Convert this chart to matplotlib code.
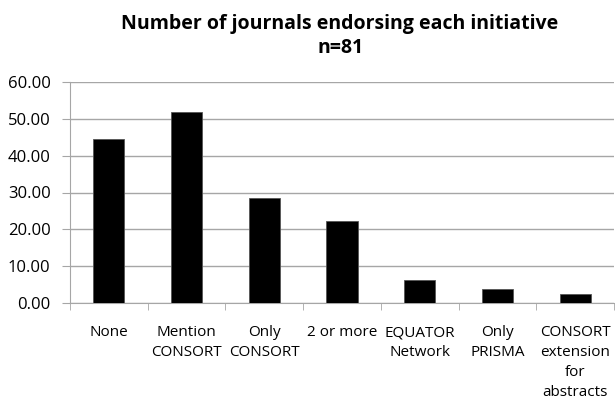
import matplotlib
matplotlib.use("Agg")
import matplotlib.pyplot as plt
import numpy as np

categories = ["None", "Mention\nCONSORT", "Only\nCONSORT", "2 or more",
              "EQUATOR\nNetwork", "Only\nPRISMA", "CONSORT\nextension\nfor\nabstracts"]
values = [44.44, 51.85, 28.40, 22.22, 6.17, 3.70, 2.47]
yticks = [0, 10, 20, 30, 40, 50, 60]

plt.rcParams['font.family'] = ['Open Sans', 'DejaVu Sans']

fig = plt.figure(figsize=(6.15, 3.99), dpi=100)
ax = fig.add_axes([70/615, 1-303/399, 544/615, 221/399])

x = np.arange(len(categories))
ax.bar(x, values, width=0.4, color='black', edgecolor='#555555', linewidth=0.6, zorder=3)

ax.set_xlim(-0.5, len(categories) - 0.5)
ax.set_ylim(0, 60)
ax.set_yticks(yticks)
ax.set_yticklabels(['%.2f' % v for v in yticks], fontsize=12)
ax.yaxis.grid(True, color='#a6a6a6', linewidth=1, zorder=0)

ax.set_xticks(x)
ax.set_xticklabels(categories, fontsize=11, linespacing=1.45)
ax.set_xticks(np.arange(-0.5, len(categories)), minor=True)
ax.tick_params(axis='x', which='major', length=0, pad=16)
ax.tick_params(axis='x', which='minor', length=5, color='#a6a6a6')
ax.tick_params(axis='y', length=6, color='#a6a6a6', pad=8)

for side in ['top', 'right']:
    ax.spines[side].set_visible(False)
for side in ['left', 'bottom']:
    ax.spines[side].set_color('#a6a6a6')

fig.text(0.553, 0.91, "Number of journals endorsing each initiative\nn=81",
         ha='center', va='center', fontsize=14, fontweight='bold', linespacing=1.3)

fig.savefig("out.png", dpi=100)
